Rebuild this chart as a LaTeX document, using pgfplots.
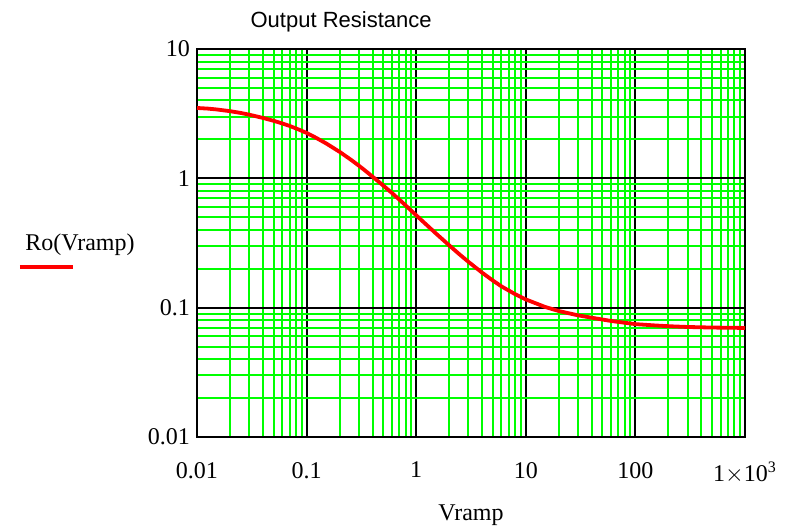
\documentclass[border=0pt]{standalone}
\usepackage{pgfplots}
\pgfplotsset{compat=1.18}
\usepackage{fontspec}
\setmainfont{Liberation Serif}
\newfontfamily\arial{Liberation Sans}
\definecolor{mcgreen}{RGB}{0,255,0}
\begin{document}
\begin{tikzpicture}
\begin{axis}[
  scale only axis,
  width=274pt, height=194pt,
  xmode=log, ymode=log,
  xmin=0.01, xmax=1000, ymin=0.01, ymax=10,
  xtick={0.01,0.1,1,10,100,1000},
  xticklabels={0.01,0.1,1,10,100,{1$\times$10\textsuperscript{3}}},
  ytick={0.01,0.1,1,10},
  yticklabels={0.01,0.1,1,10},
  minor xtick={0.02,0.03,0.04,0.05,0.06,0.07,0.08,0.09,
               0.2,0.3,0.4,0.5,0.6,0.7,0.8,0.9,
               2,3,4,5,6,7,8,9,20,30,40,50,60,70,80,90,
               200,300,400,500,600,700,800,900},
  minor ytick={0.02,0.03,0.04,0.05,0.06,0.07,0.08,0.09,
               0.2,0.3,0.4,0.5,0.6,0.7,0.8,0.9,
               2,3,4,5,6,7,8,9},
  /pgf/number format/assume math mode=true,
  tick label style={font=\fontsize{12}{14}\selectfont, text=black},
  xticklabel style={yshift=-9pt},
  major tick length=0pt, minor tick length=0pt,
  grid=both,
  minor grid style={draw=mcgreen, line width=1pt, opacity=1},
  major grid style={draw=black, line width=1pt, opacity=1},
  axis line style={black, line width=1pt},
  clip=false,
]
\addplot[red, line width=1.9pt] coordinates {
(0.01,3.50) (0.0125,3.461) (0.015,3.411) (0.02,3.306) (0.025,3.204) (0.03,3.105)
(0.04,2.931) (0.05,2.785) (0.06,2.657) (0.07,2.541) (0.08,2.433) (0.1,2.245)
(0.12,2.073) (0.15,1.867) (0.2,1.603) (0.25,1.405) (0.3,1.253) (0.35,1.130)
(0.42,0.995) (0.5,0.880) (0.6,0.771) (0.7,0.686) (0.8,0.618) (1,0.518)
(1.2,0.449) (1.5,0.3774) (2,0.3033) (2.5,0.2571) (3,0.2259) (4,0.1863)
(5,0.1622) (6,0.1460) (8,0.1271) (10,0.1158) (15,0.1013) (20,0.0942)
(30,0.0872) (40,0.0836) (60,0.0789) (100,0.0746) (150,0.0729) (200,0.0719)
(300,0.0709) (500,0.0702) (1000,0.0697)
};
\node[font=\arial\fontsize{11}{13}\selectfont, anchor=center] at (rel axis cs:0.263,1.0696) {Output Resistance};
\node[font=\fontsize{12}{14}\selectfont, anchor=center] at (rel axis cs:-0.2135,0.4948) {Ro(Vramp)};
\draw[red, line width=1.6pt] (rel axis cs:-0.323,0.4381) -- (rel axis cs:-0.2263,0.4381);
\node[font=\fontsize{12}{14}\selectfont, anchor=center] at (rel axis cs:0.5,-0.201) {Vramp};
\end{axis}
\pgfresetboundingbox
\useasboundingbox ([xshift=-98.5pt,yshift=-45.5pt]current axis.south west) rectangle ([xshift=22.5pt,yshift=24.5pt]current axis.north east);
\end{tikzpicture}
\end{document}
